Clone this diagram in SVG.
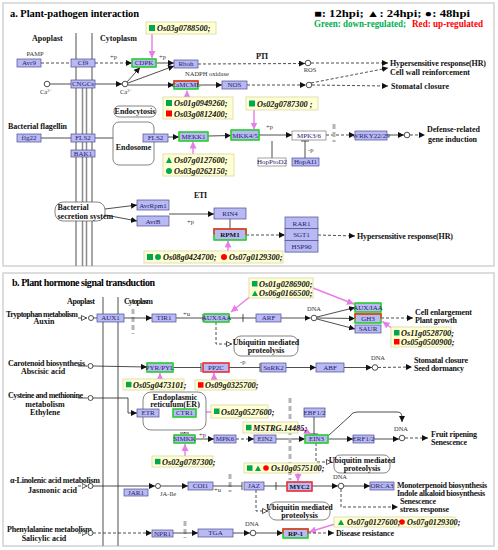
<svg xmlns="http://www.w3.org/2000/svg" width="498" height="550" viewBox="0 0 498 550">
<defs>
<style>
.pn{fill:#fff;stroke:#d2d2d2;stroke-width:1.5}
.mb{stroke:#8a8a8a;stroke-width:1.5;fill:none}
.b{fill:#b9b9f3;stroke:#4b4b8f;stroke-width:0.7}
.w{fill:#fff;stroke:#7a7a7a;stroke-width:0.7}
.gb{fill:none;stroke:#22e022;stroke-width:1.4}
.rb{fill:none;stroke:#ff2a2a;stroke-width:1.4}
.nt{font-family:"Liberation Serif",serif;font-size:7px;fill:#1e1e6a;text-anchor:middle}
.bt{font-weight:bold;fill:#111}
.lb{font-family:"Liberation Serif",serif;font-size:8px;font-weight:bold;fill:#111}
.lc{text-anchor:middle}
.sm{font-family:"Liberation Serif",serif;font-size:6.5px;fill:#333}
.gn{fill:#ffffd2;stroke:#d6d6a6;stroke-width:0.8}
.gt{font-family:"Liberation Serif",serif;font-size:8.3px;font-weight:bold;font-style:italic;fill:#111}
.rnd{fill:#fff;stroke:#666;stroke-width:0.8}
.c{stroke:#222;stroke-width:0.8;fill:none}
.d{stroke-dasharray:3,2}
.pk{stroke:#e87ce8;stroke-width:1.4;fill:none}
.gbar{stroke:#b5b5b5;stroke-width:3;stroke-dasharray:5,3;fill:none}
.sg{fill:#00a651}
.sr{fill:#ff0000}
.ci{fill:#fff;stroke:#222;stroke-width:0.8}
</style>
<marker id="ar" viewBox="0 0 6 6" refX="6" refY="3" markerWidth="6" markerHeight="6" markerUnits="userSpaceOnUse" orient="auto"><path d="M0,0L6,3L0,6z" fill="#111"/></marker>
<marker id="oa" viewBox="0 0 6 6" refX="6" refY="3" markerWidth="6" markerHeight="6" markerUnits="userSpaceOnUse" orient="auto"><path d="M0.5,0.5L5.5,3L0.5,5.5z" fill="#fff" stroke="#111" stroke-width="0.7"/></marker>
<marker id="pa" viewBox="0 0 8 8" refX="8" refY="4" markerWidth="7" markerHeight="7" markerUnits="userSpaceOnUse" orient="auto"><path d="M0,0L8,4L0,8z" fill="#e87ce8"/></marker>
</defs>

<!-- Panels -->
<rect class="pn" x="3" y="3" width="491" height="263"/>
<rect class="pn" x="3" y="273" width="491" height="273"/>

<!-- Panel a headers -->
<g id="a-headers">
<text x="10" y="16.5" font-family="Liberation Serif,serif" font-size="10.5" font-weight="bold" textLength="129">a. Plant-pathogen interaction</text>
<text x="314" y="16.5" font-family="Liberation Serif,serif" font-size="10" font-weight="bold" textLength="156" lengthAdjust="spacingAndGlyphs">■: 12hpi; ▲: 24hpi; ●: 48hpi</text>
<text x="314" y="26.5" font-family="Liberation Serif,serif" font-size="9.5" font-weight="bold" fill="#00b050" textLength="92" lengthAdjust="spacingAndGlyphs">Green: down-regulated;</text>
<text x="412" y="26.5" font-family="Liberation Serif,serif" font-size="9.5" font-weight="bold" fill="#ff0000" textLength="71" lengthAdjust="spacingAndGlyphs">Red: up-regulated</text>
<text class="lb" x="32" y="40.5" font-size="9">Apoplast</text>
<text class="lb" x="100" y="40.5" font-size="9">Cytoplasm</text>
<text class="lb" x="256" y="59" textLength="12">PTI</text>
<text class="lb" x="194" y="198" textLength="13">ETI</text>
<text class="lb" x="8" y="129" textLength="59">Bacterial flagellin</text>
</g>

<!-- Membrane panel a -->
<g id="a-membrane">
<line class="mb" x1="76" y1="33" x2="76" y2="266"/>
<line class="mb" x1="92" y1="33" x2="92" y2="266"/>
<line class="mb" x1="82.5" y1="88" x2="82.5" y2="266"/>
<line class="mb" x1="86.5" y1="88" x2="86.5" y2="266"/>
</g>

<!-- Connectors panel a -->
<g id="a-connectors">
<line class="c d" x1="41" y1="63" x2="71" y2="63"/>
<line class="c d" x1="95" y1="63" x2="132" y2="63" marker-end="url(#ar)"/>
<line class="c" x1="156" y1="63" x2="174" y2="63" marker-end="url(#ar)"/>
<line class="c" x1="50" y1="84" x2="71" y2="84"/>
<line class="c" x1="95" y1="84" x2="122" y2="84" marker-end="url(#ar)"/>
<line class="c" x1="127" y1="82" x2="140" y2="67.5" marker-end="url(#ar)"/>
<line class="c" x1="128" y1="83" x2="174" y2="66" marker-end="url(#ar)"/>
<line class="c" x1="128" y1="85" x2="174" y2="85" marker-end="url(#ar)"/>
<line class="c d" x1="198" y1="64" x2="305" y2="63.5" marker-end="url(#ar)"/>
<line class="c d" x1="311" y1="63" x2="388" y2="63" marker-end="url(#ar)"/>
<line class="c" x1="198" y1="85" x2="222" y2="85" marker-end="url(#ar)"/>
<line class="c d" x1="247" y1="85" x2="306" y2="85" marker-end="url(#ar)"/>
<line class="c d" x1="312" y1="85" x2="388" y2="86" marker-end="url(#ar)"/>
<line class="c d" x1="311" y1="83" x2="388" y2="68" marker-end="url(#ar)"/>
<line class="c" x1="41" y1="138" x2="71" y2="138"/>
<line class="c" x1="95" y1="138" x2="143" y2="138" marker-end="url(#ar)"/>
<line class="c" x1="168" y1="137" x2="179" y2="137" marker-end="url(#ar)"/>
<line class="c" x1="208" y1="136" x2="231" y2="135.5" marker-end="url(#ar)"/>
<line class="c" x1="259" y1="135" x2="292" y2="135" marker-end="url(#ar)"/>
<line class="c d" x1="326" y1="135" x2="355" y2="135" marker-end="url(#ar)"/>
<line class="c" x1="387" y1="135" x2="404" y2="135" marker-end="url(#ar)"/>
<line class="c d" x1="410" y1="135" x2="425" y2="135" marker-end="url(#ar)"/>
<line class="gbar" x1="334" y1="124" x2="334" y2="142"/>
<line class="c" x1="272" y1="158" x2="272" y2="141"/>
<line class="c" x1="305" y1="158" x2="305" y2="141"/>
<line class="c" x1="301" y1="141" x2="309" y2="141"/>
<line class="c" x1="105" y1="209" x2="137" y2="205" marker-end="url(#ar)"/>
<line class="c" x1="100" y1="214" x2="137" y2="221" marker-end="url(#ar)"/>
<line class="c" x1="169" y1="214" x2="214" y2="214" marker-end="url(#ar)"/>
<line class="c" x1="230" y1="219" x2="230" y2="229"/>
<line class="c d" x1="246" y1="235" x2="285" y2="235" marker-end="url(#ar)"/>
<line class="c d" x1="318" y1="235" x2="355" y2="236" marker-end="url(#ar)"/>
<line class="pk" x1="152" y1="34" x2="152" y2="58" marker-end="url(#pa)"/>
<line class="pk" x1="187" y1="97" x2="187" y2="90.5" marker-end="url(#pa)"/>
<line class="pk" x1="254" y1="110" x2="254" y2="129.5" marker-end="url(#pa)"/>
<line class="pk" x1="193" y1="154" x2="193" y2="141.5" marker-end="url(#pa)"/>
<line class="pk" x1="228" y1="251" x2="228" y2="240.5" marker-end="url(#pa)"/>
<text class="sm" x="110" y="59">+p</text>
<text class="sm" x="159" y="59">+p</text>
<text class="sm" x="266" y="129">+p</text>
<text class="sm" x="308" y="152">-p</text>
<text class="sm" x="187" y="224">+p</text>
</g>

<!-- Panel a nodes -->
<g id="pamp"><text class="sm" x="35" y="56" text-anchor="middle" font-size="7">PAMP</text></g>
<g id="avr9"><rect class="b" x="17" y="59" width="24" height="8"/><text class="nt" x="29" y="65.3">Avr9</text></g>
<g id="cf9"><rect class="b" x="71" y="59" width="24" height="8"/><text class="nt" x="83" y="65.3">Cf9</text></g>
<g id="cdpk"><rect class="b" x="132" y="59" width="24" height="8"/><rect class="gb" x="132" y="59" width="24" height="8"/><text class="nt" x="144" y="65.3">CDPK</text></g>
<g id="gene-a1"><rect class="gn" x="146" y="22" width="70" height="12"/><rect class="sg" x="149" y="25" width="6" height="6"/><text class="gt" x="157" y="31">Os03g0788500;</text></g>
<g id="rboh"><rect class="b" x="174" y="60" width="24" height="8"/><text class="nt" x="186" y="66.3">Rboh</text><text class="sm" x="185" y="75.5">NADPH oxidase</text></g>
<g id="ros"><circle class="ci" cx="308" cy="63" r="2.8"/><text class="sm" x="310" y="72" text-anchor="middle">ROS</text></g>
<g id="ca1"><circle class="ci" cx="47" cy="84" r="2.8"/><text class="sm" x="40" y="94">Ca<tspan font-size="4.5" dy="-2.5">2+</tspan></text></g>
<g id="cngcs"><rect class="b" x="71" y="80" width="24" height="8"/><text class="nt" x="83" y="86.3">CNGCs</text></g>
<g id="ca2"><circle class="ci" cx="125" cy="84" r="2.8"/><text class="sm" x="120" y="94">Ca<tspan font-size="4.5" dy="-2.5">2+</tspan></text></g>
<g id="camcml"><rect class="b" x="174" y="81" width="24" height="8"/><rect class="gb" x="174" y="81" width="24" height="8"/><path class="rb" d="M174,85V81H198V85"/><text class="nt" x="186" y="87.3">CaMCML</text></g>
<g id="nos"><rect class="b" x="222" y="81" width="25" height="8"/><text class="nt" x="234.5" y="87.3">NOS</text></g>
<g id="no"><circle class="ci" cx="309" cy="85" r="2.8"/></g>
<g id="hr1"><text class="lb" x="390" y="66" textLength="96">Hypersensitive response(HR)</text><text class="lb" x="390" y="75" textLength="80">Cell wall reinforcement</text></g>
<g id="stomatal-a"><text class="lb" x="391" y="89" textLength="58">Stomatal closure</text></g>
<g id="gene-a2"><rect class="gn" x="163" y="97" width="70" height="22"/><rect class="sg" x="166" y="100" width="6" height="6"/><text class="gt" x="174" y="106">Os01g0949260;</text><rect class="sr" x="166" y="110.5" width="6" height="6"/><text class="gt" x="174" y="117">Os03g0812400;</text></g>
<g id="gene-a3"><rect class="gn" x="246" y="97" width="72" height="13"/><rect class="sg" x="249" y="100.5" width="6" height="6"/><text class="gt" x="257" y="107">Os02g0787300 ;</text></g>
<g id="endocytosis"><rect class="rnd" x="114" y="106" width="42" height="11" rx="5"/><text class="lb lc" x="135" y="114" font-size="7.5">Endocytosis</text></g>
<g id="endosome"><rect class="rnd" x="113" y="122" width="41" height="43" rx="6" stroke="#888"/><text class="lb lc" x="133.5" y="150" font-size="7.5">Endosome</text></g>
<g id="flg22"><rect class="b" x="17" y="134" width="24" height="8"/><text class="nt" x="29" y="140.3">flg22</text></g>
<g id="fls2"><rect class="b" x="71" y="134" width="24" height="8"/><text class="nt" x="83" y="140.3">FLS2</text></g>
<g id="bak1"><rect class="b" x="71" y="150" width="24" height="7"/><text class="nt" x="83" y="155.8">BAK1</text></g>
<g id="fls2-endo"><rect class="b" x="143" y="134" width="25" height="8"/><text class="nt" x="155.5" y="140.3">FLS2</text></g>
<g id="mekk1"><rect class="b" x="179" y="132" width="29" height="9"/><rect class="gb" x="179" y="132" width="29" height="9"/><text class="nt" x="193.5" y="138.8">MEKK1</text></g>
<g id="mkk45"><rect class="b" x="231" y="130" width="28" height="10"/><rect class="gb" x="231" y="130" width="28" height="10"/><text class="nt" x="245" y="137.5">MKK4/5</text></g>
<g id="mpk36"><rect class="w" x="292" y="131" width="34" height="9"/><text class="nt" x="309" y="137.8">MPK3/6</text></g>
<g id="hoppto"><rect class="w" x="258" y="158" width="28" height="8"/><text class="nt" x="272" y="164.3">HopPtoD2</text></g>
<g id="hopai1"><rect class="b" x="292" y="158" width="27" height="8"/><text class="nt" x="305.5" y="164.3">HopAI1</text></g>
<g id="wrky"><rect class="b" x="355" y="131" width="32" height="9"/><text class="nt" x="371" y="137.8">WRKY22/29</text></g>
<g id="dna-a"><circle class="ci" cx="407" cy="135" r="2.8"/></g>
<g id="defense"><text class="lb" x="427" y="132" textLength="53">Defense-related</text><text class="lb" x="428" y="142" textLength="49">gene induction</text></g>
<g id="gene-a4"><rect class="gn" x="163" y="154" width="71" height="22"/><path class="sg" d="M166,163L169,157L172,163z"/><text class="gt" x="174" y="163">Os07g0127600;</text><circle class="sg" cx="169" cy="171" r="3"/><text class="gt" x="174" y="174">Os03g0262150;</text></g>
<g id="secretion"><rect class="rnd" x="55" y="202" width="50" height="19" rx="8"/><text class="lb" x="57.5" y="210" font-size="7.2">Bacterial</text><text class="lb" x="57.5" y="218.5" font-size="7.2">secretion system</text></g>
<g id="avrrpm1"><rect class="b" x="137" y="200" width="32" height="10"/><text class="nt" x="153" y="207.5">AvrRpm1</text></g>
<g id="avrb"><rect class="b" x="137" y="216" width="32" height="10"/><text class="nt" x="153" y="223.5">AvrB</text></g>
<g id="rin4"><rect class="b" x="214" y="208" width="32" height="11"/><text class="nt" x="230" y="216" font-size="8">RIN4</text></g>
<g id="rpm1"><rect class="b" x="214" y="229" width="32" height="11"/><rect class="gb" x="214" y="229" width="32" height="11"/><path class="rb" d="M214,234.5V229H246V234.5"/><text class="nt bt" x="230" y="237" font-size="8">RPM1</text></g>
<g id="rar1"><rect class="b" x="285" y="217" width="33" height="11.7"/><text class="nt" x="301.5" y="225.5" font-size="8">RAR1</text></g>
<g id="sgt1"><rect class="b" x="285" y="228.7" width="33" height="11.7"/><text class="nt" x="301.5" y="237.2" font-size="8">SGT1</text></g>
<g id="hsp90"><rect class="b" x="285" y="240.4" width="33" height="11.7"/><text class="nt" x="301.5" y="248.9" font-size="8">HSP90</text></g>
<g id="hr2"><text class="lb" x="357" y="239" textLength="96">Hypersensitive response(HR)</text></g>
<g id="gene-a5"><rect class="gn" x="144" y="251" width="139" height="12"/><rect class="sg" x="147" y="254" width="6" height="6"/><circle class="sg" cx="158" cy="257" r="3"/><text class="gt" x="163" y="260">Os08g0424700;</text><circle class="sr" cx="224" cy="257" r="3"/><text class="gt" x="229" y="260">Os07g0129300;</text></g>

<!-- Panel b headers -->
<g id="b-headers">
<text x="12" y="286" font-family="Liberation Serif,serif" font-size="10" font-weight="bold" textLength="143">b. Plant hormone signal transduction</text>
<text class="lb" x="67" y="304" textLength="28">Apoplast</text>
<text class="lb" x="124" y="304" textLength="29">Cytoplasm</text>
<text class="lb" x="6" y="316.5" textLength="72">Tryptophan metabolism</text>
<text class="lb lc" x="44" y="324">Auxin</text>
<text class="lb" x="8" y="366" textLength="77">Carotenoid biosynthesis</text>
<text class="lb lc" x="43" y="374">Abscisic acid</text>
<text class="lb" x="8" y="398" textLength="75">Cysteine and methionine</text>
<text class="lb lc" x="45" y="406.5">metabolism</text>
<text class="lb lc" x="45" y="415">Ethylene</text>
<text class="lb" x="10" y="482.5" textLength="90">α-Linolenic acid metabolism</text>
<text class="lb" x="28" y="492.5" textLength="49">Jasmonic  acid</text>
<text class="lb" x="7" y="531.5" textLength="85">Phenylalanine metabolism</text>
<text class="lb lc" x="44" y="541">Salicylic acid</text>
</g>

<!-- Membrane panel b -->
<g id="b-membrane">
<line class="mb" x1="103" y1="297" x2="103" y2="546"/>
<line class="mb" x1="118" y1="297" x2="118" y2="546"/>
</g>

<!-- Connectors panel b -->
<g id="b-connectors">
<line class="c" x1="78" y1="318" x2="87" y2="318" marker-end="url(#oa)"/>
<line class="c" x1="93.5" y1="318" x2="97" y2="318"/>
<line class="gbar" x1="133" y1="309" x2="133" y2="334"/>
<line class="c" x1="124" y1="318" x2="152" y2="318" marker-end="url(#ar)"/>
<line class="c" x1="176" y1="318" x2="203" y2="318"/>
<line class="c" x1="203" y1="314" x2="203" y2="322"/>
<line class="c" x1="229" y1="318" x2="256" y2="318"/>
<line class="c" x1="243" y1="314" x2="243" y2="322"/>
<line class="c" x1="281" y1="318" x2="310.5" y2="318" marker-end="url(#ar)"/>
<line class="c" x1="317" y1="317" x2="355" y2="307.5" marker-end="url(#ar)"/>
<line class="c" x1="317" y1="318" x2="355" y2="318.5" marker-end="url(#ar)"/>
<line class="c" x1="317" y1="319" x2="355" y2="329" marker-end="url(#ar)"/>
<line class="c d" x1="381" y1="318" x2="413" y2="318" marker-end="url(#ar)"/>
<path class="c d" d="M216,322V344H232" marker-end="url(#oa)"/>
<line class="pk" x1="252" y1="295" x2="231" y2="312" marker-end="url(#pa)"/>
<line class="pk" x1="313" y1="288" x2="354" y2="304" marker-end="url(#pa)"/>
<line class="pk" x1="393" y1="329" x2="382.5" y2="321.5" marker-end="url(#pa)"/>
<text class="sm" x="183" y="316">+u</text>

<line class="c" x1="78" y1="366" x2="87.5" y2="366"/>
<line class="c" x1="93" y1="366" x2="147" y2="367" marker-end="url(#ar)"/>
<line class="c" x1="173" y1="367.5" x2="201" y2="367.5"/>
<line class="c" x1="201" y1="363" x2="201" y2="372"/>
<line class="c" x1="229" y1="367.5" x2="260" y2="367.5"/>
<line class="c" x1="260" y1="363" x2="260" y2="372"/>
<line class="c" x1="286" y1="367.5" x2="316" y2="367.5" marker-end="url(#ar)"/>
<line class="c" x1="344" y1="367.5" x2="372" y2="367.5" marker-end="url(#ar)"/>
<line class="c d" x1="378" y1="367.5" x2="412" y2="367" marker-end="url(#ar)"/>
<line class="pk" x1="160" y1="379" x2="160" y2="373" marker-end="url(#pa)"/>
<line class="pk" x1="214" y1="380" x2="214" y2="373" marker-end="url(#pa)"/>
<text class="sm" x="240" y="364">-p</text>

<line class="c" x1="78" y1="398" x2="87.5" y2="398"/>
<path class="c" d="M93,398H128V413H137" marker-end="url(#ar)"/>
<line class="c" x1="159" y1="413" x2="173" y2="413" marker-end="url(#ar)"/>
<line class="pk" x1="211" y1="412" x2="197" y2="412" marker-end="url(#pa)"/>
<line class="c d" x1="184.5" y1="417" x2="184.5" y2="433"/>
<line class="c" x1="180" y1="433" x2="189" y2="433"/>
<line class="c" x1="195" y1="439" x2="214" y2="439" marker-end="url(#ar)"/>
<line class="c d" x1="236" y1="439" x2="254" y2="439" marker-end="url(#ar)"/>
<line class="c" x1="276" y1="439" x2="305" y2="439" marker-end="url(#ar)"/>
<line class="c" x1="314" y1="417" x2="314" y2="434"/>
<line class="c" x1="310" y1="434" x2="318" y2="434"/>
<line class="pk" x1="298" y1="427" x2="311" y2="434" marker-end="url(#pa)"/>
<line class="pk" x1="185" y1="456" x2="185" y2="444" marker-end="url(#pa)"/>
<line class="gbar" x1="290" y1="398" x2="290" y2="480"/>
<path class="c" d="M328,436L350,416Q352,412 357,412H397Q402,412 402,417V422" marker-end="url(#ar)"/>
<line class="c" x1="328" y1="439" x2="353" y2="439" marker-end="url(#ar)"/>
<line class="c" x1="374" y1="439" x2="399" y2="439" marker-end="url(#ar)"/>
<line class="c d" x1="405" y1="438" x2="428" y2="438" marker-end="url(#ar)"/>
<path class="c d" d="M316,443V462H332" marker-end="url(#oa)"/>
<text class="sm" x="199" y="437">+p</text>

<line class="c d" x1="78" y1="486" x2="87.5" y2="486" marker-end="url(#oa)"/>
<line class="c" x1="93" y1="486" x2="155" y2="486" marker-end="url(#ar)"/>
<line class="c" x1="161" y1="486" x2="188" y2="486" marker-end="url(#ar)"/>
<line class="gbar" x1="230" y1="474" x2="230" y2="492"/>
<line class="c" x1="213" y1="486" x2="242" y2="486"/>
<line class="c" x1="242" y1="482" x2="242" y2="490"/>
<line class="c" x1="264" y1="486" x2="287" y2="486"/>
<line class="c" x1="276" y1="482" x2="276" y2="490"/>
<line class="pk" x1="298" y1="473" x2="298" y2="481" marker-end="url(#pa)"/>
<path class="c d" d="M256,490V511H268" marker-end="url(#oa)"/>
<line class="c" x1="312" y1="486" x2="338" y2="486" marker-end="url(#ar)"/>
<line class="c" x1="344" y1="486" x2="370" y2="486" marker-end="url(#ar)"/>
<path class="c d" d="M341,489V507H398" marker-end="url(#ar)"/>
<line class="pk" x1="335" y1="524" x2="309" y2="532" marker-end="url(#pa)"/>
<text class="sm" x="214" y="492">+u</text>

<line class="c d" x1="78" y1="533" x2="87.5" y2="533" marker-end="url(#oa)"/>
<line class="c d" x1="93" y1="533" x2="152" y2="533" marker-end="url(#ar)"/>
<line class="gbar" x1="185" y1="521" x2="185" y2="538"/>
<line class="c" x1="173" y1="533" x2="198" y2="533" marker-end="url(#ar)"/>
<line class="c" x1="233" y1="533" x2="250" y2="533" marker-end="url(#ar)"/>
<line class="c" x1="256" y1="533" x2="283" y2="533" marker-end="url(#ar)"/>
<line class="c d" x1="308" y1="533" x2="334" y2="533" marker-end="url(#ar)"/>
</g>

<!-- Panel b nodes -->
<g id="c-trp"><circle class="ci" cx="91" cy="318" r="2.5"/></g>
<g id="aux1"><rect class="b" x="97" y="314" width="27" height="8"/><text class="nt" x="110.5" y="320.3">AUX1</text></g>
<g id="tir1"><rect class="b" x="152" y="314" width="24" height="8"/><text class="nt" x="164" y="320.3">TIR1</text></g>
<g id="auxiaa1"><rect class="b" x="204" y="314" width="25" height="8"/><rect class="gb" x="204" y="314" width="25" height="8"/><text class="nt" x="216.5" y="320.3">AUX/IAA</text></g>
<g id="arf"><rect class="b" x="256" y="314" width="25" height="8"/><text class="nt" x="268.5" y="320.3">ARF</text></g>
<g id="dna-b1"><circle class="ci" cx="314" cy="318" r="2.8"/><text class="sm lc" x="314" y="311" text-anchor="middle">DNA</text></g>
<g id="auxiaa2"><rect class="b" x="355" y="303" width="26" height="9"/><rect class="gb" x="355" y="303" width="26" height="9"/><text class="nt" x="368" y="309.8">AUX/IAA</text></g>
<g id="gh3"><rect class="b" x="355" y="314" width="26" height="9"/><rect class="gb" x="355" y="314" width="26" height="9"/><path class="rb" d="M355,318.5V314H381V318.5"/><text class="nt" x="368" y="320.8">GH3</text></g>
<g id="saur"><rect class="b" x="355" y="325" width="26" height="8"/><text class="nt" x="368" y="331.3">SAUR</text></g>
<g id="cell-enl"><text class="lb" x="415" y="315" textLength="57">Cell enlargement</text><text class="lb" x="415" y="322.5" textLength="42">Plant growth</text></g>
<g id="gene-b1"><rect class="gn" x="249" y="278" width="64" height="20"/><rect class="sg" x="252" y="281" width="5.5" height="5.5"/><text class="gt" x="259" y="287" font-size="7.3">Os01g0286900;</text><path class="sg" d="M252,296L255,290.5L258,296z"/><text class="gt" x="259" y="296" font-size="7.3">Os06g0166500;</text></g>
<g id="gene-b2"><rect class="gn" x="391" y="327" width="60" height="20"/><rect class="sg" x="394" y="330" width="5.5" height="5.5"/><text class="gt" x="401" y="336" font-size="7.3">Os11g0528700;</text><rect class="sr" x="394" y="339" width="5.5" height="5.5"/><text class="gt" x="401" y="345" font-size="7.3">Os05g0500900;</text></g>
<g id="ubq1"><rect class="rnd" x="234" y="336" width="64" height="20" rx="7"/><text class="lb lc" x="266" y="344.5" font-size="7.3">Ubiquitin mediated</text><text class="lb lc" x="266" y="353" font-size="7.3">proteolysis</text></g>

<g id="c-car"><circle class="ci" cx="90.5" cy="366" r="2.5"/></g>
<g id="pyr"><rect class="b" x="147" y="363" width="26" height="9"/><rect class="gb" x="147" y="363" width="26" height="9"/><text class="nt" x="160" y="369.8">PYR/PYL</text></g>
<g id="pp2c"><rect class="b" x="203" y="363" width="26" height="9"/><rect class="rb" x="203" y="363" width="26" height="9"/><text class="nt" x="216" y="369.8">PP2C</text></g>
<g id="snrk2"><rect class="b" x="261" y="363" width="25" height="9"/><text class="nt" x="273.5" y="369.8">SnRK2</text></g>
<g id="abf"><rect class="b" x="316" y="363" width="28" height="9"/><text class="nt" x="330" y="369.8">ABF</text></g>
<g id="dna-b2"><circle class="ci" cx="375" cy="367.5" r="2.8"/><text class="sm" x="378" y="360" text-anchor="middle">DNA</text></g>
<g id="stomatal-b"><text class="lb" x="414" y="363" textLength="54">Stomatal closure</text><text class="lb" x="414" y="371" textLength="50">Seed dormancy</text></g>
<g id="gene-b3"><rect class="gn" x="123" y="379" width="61" height="11"/><rect class="sg" x="126" y="381.8" width="5.5" height="5.5"/><text class="gt" x="133" y="387.5" font-size="7.3">Os05g0473101;</text></g>
<g id="gene-b4"><rect class="gn" x="195" y="380" width="61" height="10"/><rect class="sr" x="198" y="382.2" width="5.5" height="5.5"/><text class="gt" x="205" y="388" font-size="7.3">Os09g0325700;</text></g>

<g id="c-cys"><circle class="ci" cx="90.5" cy="398" r="2.5"/></g>
<g id="er"><rect class="rnd" x="143" y="392" width="63" height="38" rx="8"/><text class="lb lc" x="175" y="399.5" font-size="7.3">Endoplasmic</text><text class="lb lc" x="175" y="407" font-size="7.3">reticulum(ER)</text></g>
<g id="etr"><rect class="b" x="137" y="409" width="22" height="8"/><text class="nt" x="148" y="415.3">ETR</text></g>
<g id="ctr1"><rect class="b" x="173" y="409" width="23" height="8"/><rect class="gb" x="173" y="409" width="23" height="8"/><text class="nt" x="184.5" y="415.3">CTR1</text></g>
<g id="gene-b5"><rect class="gn" x="211" y="405" width="57" height="13"/><rect class="sg" x="214" y="408.5" width="5.5" height="5.5"/><text class="gt" x="221" y="414.5" font-size="7.3">Os02g0527600;</text></g>
<g id="simkk"><rect class="b" x="174" y="435" width="21" height="8"/><rect class="gb" x="174" y="435" width="21" height="8"/><text class="nt" x="184.5" y="441.3">SIMKK</text></g>
<g id="gene-b6"><rect class="gn" x="152" y="456" width="61" height="11"/><rect class="sg" x="155" y="458.8" width="5.5" height="5.5"/><text class="gt" x="162" y="464.5" font-size="7.3">Os02g0787300;</text></g>
<g id="mpk6"><rect class="b" x="214" y="435" width="22" height="8"/><text class="nt" x="225" y="441.3">MPK6</text></g>
<g id="ein2"><rect class="b" x="254" y="435" width="22" height="8"/><text class="nt" x="265" y="441.3">EIN2</text></g>
<g id="ebf12"><rect class="b" x="304" y="408" width="21" height="9"/><text class="nt" x="314.5" y="414.8">EBF1/2</text></g>
<g id="ein3"><rect class="b" x="305" y="435" width="23" height="8"/><rect class="gb" x="305" y="435" width="23" height="8"/><text class="nt" x="316.5" y="441.3">EIN3</text></g>
<g id="gene-b7"><rect class="gn" x="243" y="422" width="55" height="11"/><rect class="sg" x="246" y="424.8" width="5.5" height="5.5"/><text class="gt" x="253" y="430.5" font-size="7.3">MSTRG.14485;</text></g>
<g id="erf12"><rect class="b" x="353" y="435" width="21" height="8"/><text class="nt" x="363.5" y="441.3">ERF1/2</text></g>
<g id="dna-b3"><circle class="ci" cx="402" cy="438" r="2.8"/><text class="sm" x="401" y="431" text-anchor="middle">DNA</text></g>
<g id="fruit"><text class="lb" x="431" y="437" textLength="46">Fruit ripening</text><text class="lb" x="431" y="444.5" textLength="36">Senescence</text></g>
<g id="ubq2"><rect class="rnd" x="334" y="455" width="56" height="18" rx="6"/><text class="lb lc" x="362" y="462.5" font-size="6.3">Ubiquitin mediated</text><text class="lb lc" x="362" y="470.5" font-size="6.3">proteolysis</text></g>

<g id="c-ja"><circle class="ci" cx="90.5" cy="486" r="2.5"/></g>
<g id="jaile"><circle class="ci" cx="158" cy="486" r="2.5"/><text class="sm" x="160" y="496">JA-Ile</text></g>
<g id="jar1"><rect class="b" x="124" y="489" width="24" height="7"/><text class="nt" x="136" y="494.8">JAR1</text></g>
<g id="coi1"><rect class="b" x="188" y="482" width="25" height="8"/><text class="nt" x="200.5" y="488.3">COI1</text></g>
<g id="jaz"><rect class="b" x="244" y="482" width="20" height="8"/><text class="nt" x="254" y="488.3">JAZ</text></g>
<g id="myc2"><rect class="b" x="287" y="482" width="25" height="9"/><rect class="rb" x="287" y="482" width="25" height="9"/><text class="nt bt" x="299.5" y="489">MYC2</text></g>
<g id="gene-b8"><rect class="gn" x="244" y="463" width="75" height="10"/><rect class="sg" x="247" y="465.3" width="5.5" height="5.5"/><path class="sg" d="M255,471L258,465.5L261,471z"/><circle class="sr" cx="266" cy="468" r="2.8"/><text class="gt" x="271" y="471" font-size="7.3">Os10g0575100;</text></g>
<g id="ubq3"><rect class="rnd" x="269" y="502" width="61" height="18" rx="7"/><text class="lb lc" x="299.5" y="510" font-size="7.3">Ubiquitin mediated</text><text class="lb lc" x="299.5" y="518" font-size="7.3">proteolysis</text></g>
<g id="dna-b4"><circle class="ci" cx="341" cy="486" r="2.8"/><text class="sm" x="340" y="479" text-anchor="middle">DNA</text></g>
<g id="orca3"><rect class="b" x="370" y="482" width="24" height="8"/><text class="nt" x="382" y="488.3">ORCA3</text></g>
<g id="mono"><text class="lb" x="397" y="487.5" textLength="90">Monoterpenoid biosynthesis</text><text class="lb" x="397" y="495.5" textLength="88">Indole alkaloid biosynthesis</text></g>
<g id="senes"><text class="lb" x="400" y="503.5" textLength="36">Senescence</text><text class="lb" x="400" y="511.5" textLength="49">stress response</text></g>
<g id="gene-b9"><rect class="gn" x="334" y="517" width="121" height="10"/><path class="sg" d="M338,525L341,519.5L344,525z"/><text class="gt" x="347" y="525" font-size="7.3">Os07g0127600;</text><circle class="sr" cx="402" cy="522" r="2.8"/><text class="gt" x="407" y="525" font-size="7.3">Os07g0129300;</text></g>

<g id="c-phe"><circle class="ci" cx="90.5" cy="533" r="2.5"/></g>
<g id="npr1"><rect class="b" x="152" y="530" width="21" height="7"/><text class="nt" x="162.5" y="535.8">NPR1</text></g>
<g id="tga"><rect class="b" x="198" y="529" width="35" height="8"/><text class="nt" x="215.5" y="535.3">TGA</text></g>
<g id="dna-b5"><circle class="ci" cx="253" cy="533" r="2.8"/><text class="sm" x="252" y="526" text-anchor="middle">DNA</text></g>
<g id="rp1"><rect class="b" x="283" y="529" width="25" height="9"/><rect class="gb" x="283" y="529" width="25" height="9"/><path class="rb" d="M283,533.5V529H308V533.5"/><text class="nt bt" x="295.5" y="536">RP-1</text></g>
<g id="disease"><text class="lb" x="336" y="535.5" textLength="58">Disease resistance</text></g>
</svg>
